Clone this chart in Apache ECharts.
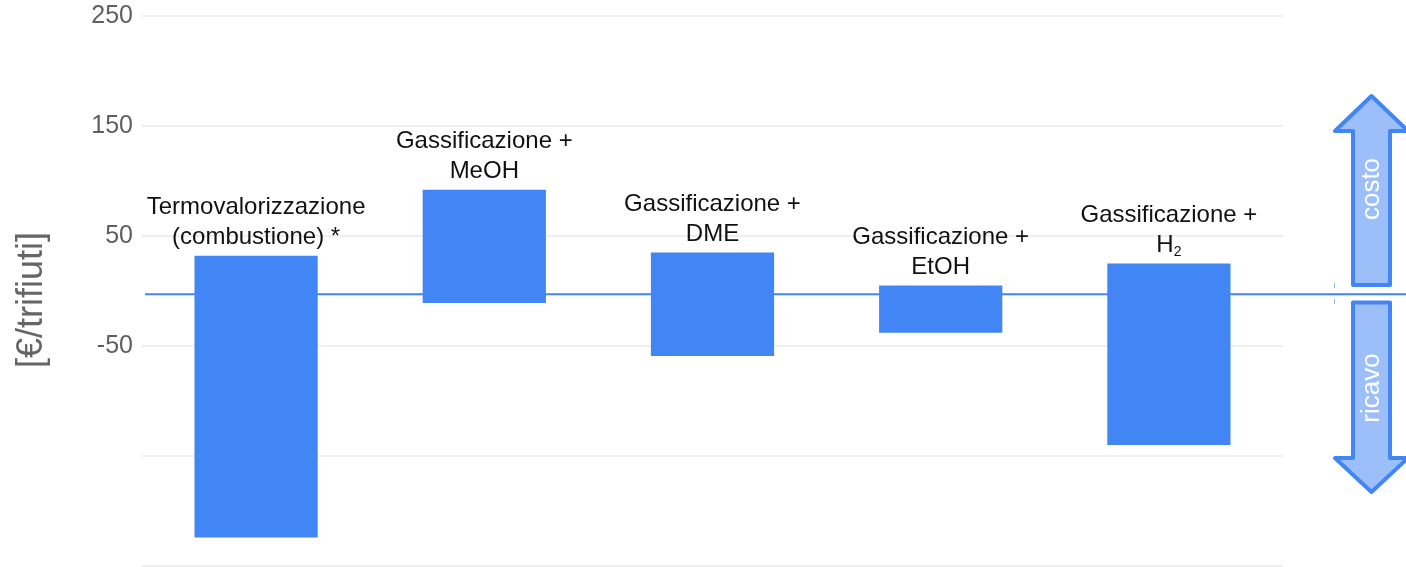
<!DOCTYPE html>
<html>
<head>
<meta charset="utf-8">
<script src="https://cdn.jsdelivr.net/npm/echarts@6/dist/echarts.min.js"></script>
<style>
  html, body { margin: 0; padding: 0; background: #fff; }
  #main { width: 1406px; height: 567px; }
</style>
</head>
<body>
<div id="main"></div>
<script>
// dati
const categories = [
  'Termovalorizzazione\n(combustione) *',
  'Gassificazione +\nMeOH',
  'Gassificazione +\nDME',
  'Gassificazione +\nEtOH',
  'Gassificazione +\nH{sub|2}'
];
const highValues = [32, 92, 35, 5, 25];
const lowValues = [-224, -11, -59, -38, -140];
const yTicks = [250, 150, 50, -50];
const baseLine = -3;

const blue = '#4285f4';
const font = 'Liberation Sans, Arial';
const chart = echarts.init(document.getElementById('main'));

const spanValues = highValues.map((h, i) => h - lowValues[i]);

const option = {
  animation: false,
  grid: { left: 142, right: 123, top: 16, bottom: 1 },
  xAxis: {
    type: 'category',
    data: categories,
    axisLine: { show: false },
    axisTick: { show: false },
    axisLabel: { show: false }
  },
  yAxis: {
    type: 'value',
    min: -250,
    max: 250,
    interval: 100,
    axisLine: { show: false },
    axisTick: { show: false },
    axisLabel: {
      margin: 9,
      fontSize: 25,
      color: '#5f5f5f',
      fontFamily: font,
      formatter: v => yTicks.indexOf(v) >= 0 ? String(v) : ''
    },
    splitLine: { lineStyle: { color: '#efefef', width: 2 } }
  },
  series: [
    {
      type: 'bar',
      stack: 'range',
      stackStrategy: 'all',
      silent: true,
      barWidth: '54%',
      itemStyle: { color: 'transparent' },
      data: lowValues
    },
    {
      type: 'bar',
      stack: 'range',
      stackStrategy: 'all',
      barWidth: '54%',
      itemStyle: { color: blue },
      label: {
        show: true,
        position: 'top',
        distance: 3,
        color: '#111',
        fontSize: 24,
        lineHeight: 30,
        fontFamily: font,
        formatter: p => categories[p.dataIndex],
        rich: {
          sub: { fontSize: 14, lineHeight: 30, padding: [14, 0, 0, 0], color: '#111', fontFamily: font }
        }
      },
      data: spanValues
    }
  ]
};
chart.setOption(option);

// linea di base, titolo asse e frecce costo / ricavo
const yBase = chart.convertToPixel({ yAxisIndex: 0 }, baseLine);
const arrowStyle = { fill: 'rgba(66,133,244,0.52)', stroke: blue, lineWidth: 4, lineJoin: 'round' };
chart.setOption({
  graphic: [
    {
      type: 'text', x: 32, y: 300, rotation: Math.PI / 2,
      style: { text: '[€/trifiuti]', fill: '#666', fontSize: 36, fontFamily: font, align: 'center', verticalAlign: 'middle' }
    },
    {
      type: 'line', z: 10,
      shape: { x1: 145, y1: yBase, x2: 1406, y2: yBase },
      style: { stroke: blue, lineWidth: 2 }
    },
    {
      type: 'line',
      shape: { x1: 1334.5, y1: 283, x2: 1334.5, y2: 288 },
      style: { stroke: '#8ab4f8', lineWidth: 1 }
    },
    {
      type: 'line',
      shape: { x1: 1334.5, y1: 299, x2: 1334.5, y2: 304 },
      style: { stroke: '#8ab4f8', lineWidth: 1 }
    },
    {
      type: 'polygon',
      shape: { points: [[1371.5, 96], [1408, 131], [1390, 131], [1390, 285], [1353, 285], [1353, 131], [1335, 131]] },
      style: arrowStyle
    },
    {
      type: 'polygon',
      shape: { points: [[1353, 302.5], [1390, 302.5], [1390, 458], [1408, 458], [1371.5, 492], [1335, 458], [1353, 458]] },
      style: arrowStyle
    },
    {
      type: 'text', x: 1371.5, y: 189, rotation: Math.PI / 2,
      style: { text: 'costo', fill: '#fff', fontSize: 26, fontFamily: font, align: 'center', verticalAlign: 'middle' }
    },
    {
      type: 'text', x: 1371.5, y: 388, rotation: Math.PI / 2,
      style: { text: 'ricavo', fill: '#fff', fontSize: 26, fontFamily: font, align: 'center', verticalAlign: 'middle' }
    }
  ]
});
</script>
</body>
</html>
